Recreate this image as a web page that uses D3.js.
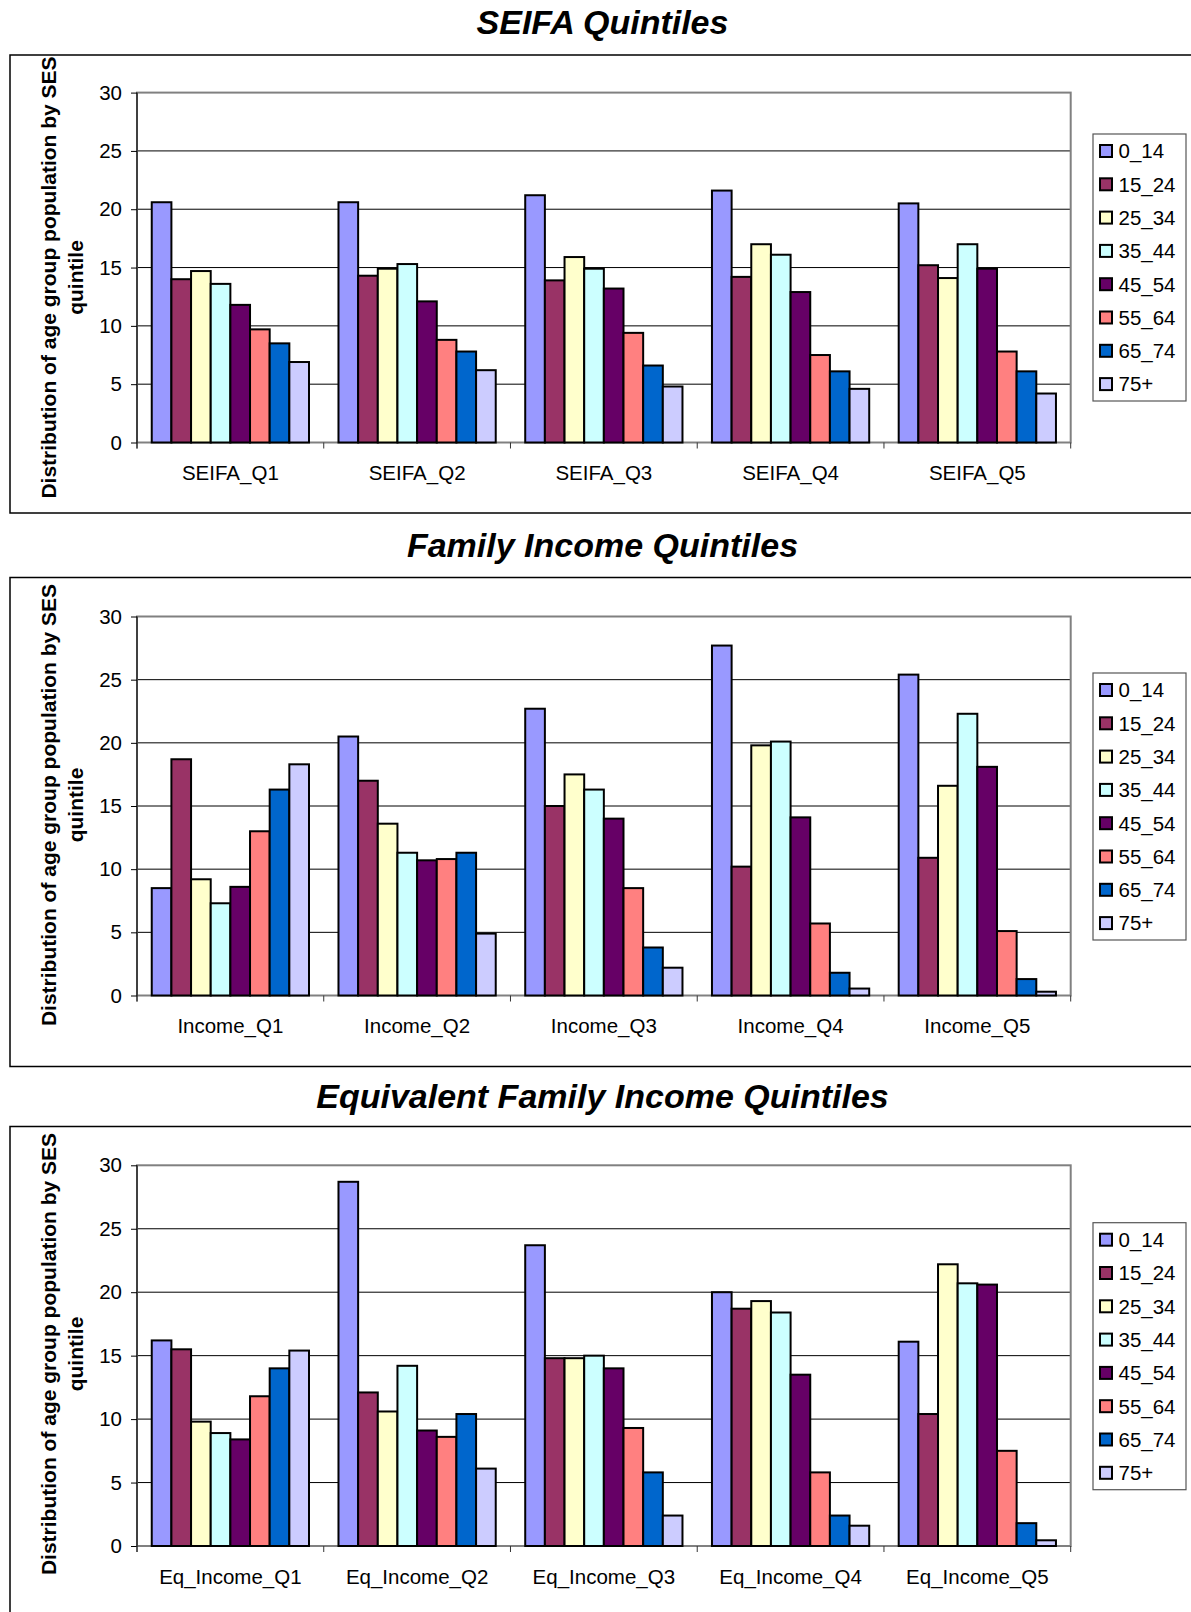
<!DOCTYPE html>
<html>
<head>
<meta charset="utf-8">
<script src="https://cdn.jsdelivr.net/npm/d3@7"></script>
<style>
  html, body { margin: 0; padding: 0; background: #fff; }
  svg { display: block; font-family: "Liberation Sans", Arial, sans-serif; }
</style>
</head>
<body>
<svg id="chart" width="1191" height="1612"></svg>
<script>
// Age groups (series) and their fill colours
const ageGroups = ["0_14", "15_24", "25_34", "35_44", "45_54", "55_64", "65_74", "75+"];
const ageColors = ["#9999FF", "#993366", "#FFFFCC", "#CCFFFF", "#660066", "#FF8080", "#0066CC", "#CCCCFF"];

const yTicks = [0, 5, 10, 15, 20, 25, 30];
const yTitleLines = ["Distribution of age group population by SES", "quintile"];

// SEIFA quintiles: % of each age group in each quintile
const seifaTitle = "SEIFA Quintiles";
const seifaCategories = ["SEIFA_Q1", "SEIFA_Q2", "SEIFA_Q3", "SEIFA_Q4", "SEIFA_Q5"];
const seifaValues = [
  [20.6, 14.0, 14.7, 13.6, 11.8, 9.7, 8.5, 6.9],
  [20.6, 14.3, 14.9, 15.3, 12.1, 8.8, 7.8, 6.2],
  [21.2, 13.9, 15.9, 14.9, 13.2, 9.4, 6.6, 4.8],
  [21.6, 14.2, 17.0, 16.1, 12.9, 7.5, 6.1, 4.6],
  [20.5, 15.2, 14.1, 17.0, 14.9, 7.8, 6.1, 4.2]
];

// Family income quintiles
const incomeTitle = "Family Income Quintiles";
const incomeCategories = ["Income_Q1", "Income_Q2", "Income_Q3", "Income_Q4", "Income_Q5"];
const incomeValues = [
  [8.5, 18.7, 9.2, 7.3, 8.6, 13.0, 16.3, 18.3],
  [20.5, 17.0, 13.6, 11.3, 10.7, 10.8, 11.3, 4.9],
  [22.7, 15.0, 17.5, 16.3, 14.0, 8.5, 3.8, 2.2],
  [27.7, 10.2, 19.8, 20.1, 14.1, 5.7, 1.8, 0.55],
  [25.4, 10.9, 16.6, 22.3, 18.1, 5.1, 1.3, 0.3]
];

// Equivalent family income quintiles
const eqIncomeTitle = "Equivalent Family Income Quintiles";
const eqIncomeCategories = ["Eq_Income_Q1", "Eq_Income_Q2", "Eq_Income_Q3", "Eq_Income_Q4", "Eq_Income_Q5"];
const eqIncomeValues = [
  [16.2, 15.5, 9.8, 8.9, 8.4, 11.8, 14.0, 15.4],
  [28.7, 12.1, 10.6, 14.2, 9.1, 8.6, 10.4, 6.1],
  [23.7, 14.8, 14.8, 15.0, 14.0, 9.3, 5.8, 2.4],
  [20.0, 18.7, 19.3, 18.4, 13.5, 5.8, 2.4, 1.6],
  [16.1, 10.4, 22.2, 20.7, 20.6, 7.5, 1.8, 0.45]
];

// Panel layout (pixel geometry for each of the three stacked charts)
const panels = [
  { title: seifaTitle, categories: seifaCategories, values: seifaValues,
    titleY: 33.5, boxTop: 55, boxBottom: 513, plotTop: 92.6, plotBottom: 442.5,
    legendTop: 134, yTitleMid: 277.5 },
  { title: incomeTitle, categories: incomeCategories, values: incomeValues,
    titleY: 557, boxTop: 577.5, boxBottom: 1066.5, plotTop: 616.5, plotBottom: 995.5,
    legendTop: 673, yTitleMid: 805 },
  { title: eqIncomeTitle, categories: eqIncomeCategories, values: eqIncomeValues,
    titleY: 1107.5, boxTop: 1126.5, boxBottom: 1640, plotTop: 1165.3, plotBottom: 1546,
    legendTop: 1222.7, yTitleMid: 1354 }
];

const plotLeft = 137, plotRight = 1070.7;
const svg = d3.select("#chart");

panels.forEach(p => {
  const g = svg.append("g");

  // Title
  g.append("text")
    .attr("x", 602.5).attr("y", p.titleY)
    .attr("text-anchor", "middle")
    .style("font-size", "34px").style("font-weight", "bold").style("font-style", "italic")
    .text(p.title);

  // Chart frame
  g.append("rect")
    .attr("x", 10).attr("y", p.boxTop)
    .attr("width", 1185).attr("height", p.boxBottom - p.boxTop)
    .attr("fill", "none").attr("stroke", "#000").attr("stroke-width", 1.5);

  const x0 = d3.scaleBand().domain(p.categories).range([plotLeft, plotRight]).padding(0);
  const x1 = d3.scaleBand().domain(ageGroups).range([0, x0.bandwidth()])
    .paddingInner(0).paddingOuter(0.75);
  const y = d3.scaleLinear().domain([0, 30]).range([p.plotBottom, p.plotTop]);

  // Gridlines
  g.append("g").selectAll("line").data(yTicks.filter(t => t > 0 && t < 30)).join("line")
    .attr("x1", plotLeft).attr("x2", plotRight)
    .attr("y1", d => y(d)).attr("y2", d => y(d))
    .attr("stroke", "#000").attr("stroke-width", 1);

  // Plot area border (grey)
  g.append("rect")
    .attr("x", plotLeft).attr("y", p.plotTop)
    .attr("width", plotRight - plotLeft).attr("height", p.plotBottom - p.plotTop)
    .attr("fill", "none").attr("stroke", "#808080").attr("stroke-width", 2);

  // Bars
  const groups = g.append("g").selectAll("g").data(p.categories).join("g")
    .attr("transform", d => `translate(${x0(d)},0)`);
  groups.selectAll("rect")
    .data((d, i) => p.values[i].map((v, j) => ({ key: ageGroups[j], value: v, color: ageColors[j] })))
    .join("rect")
    .attr("x", d => x1(d.key))
    .attr("y", d => y(d.value))
    .attr("width", x1.bandwidth())
    .attr("height", d => y(0) - y(d.value))
    .attr("fill", d => d.color)
    .attr("stroke", "#000").attr("stroke-width", 2);

  // Y axis
  const yAxis = d3.axisLeft(y).tickValues(yTicks).tickSize(6).tickPadding(9).tickFormat(d3.format("d"));
  const ya = g.append("g").attr("transform", `translate(${plotLeft},0)`).call(yAxis);
  ya.select(".domain").attr("stroke", "#000").attr("d", `M0,${y(30)}V${y(0) + 6}`);
  ya.selectAll(".tick line").attr("stroke", "#000");
  ya.selectAll("text").style("font-size", "20.5px").style("font-family", "'Liberation Sans', Arial, sans-serif").attr("fill", "#000");

  // X axis: category labels, tick marks at category boundaries
  const xa = g.append("g").attr("transform", `translate(0,${p.plotBottom})`);
  const bounds = p.categories.map(c => x0(c)).concat([plotRight]);
  xa.selectAll("line").data(bounds).join("line")
    .attr("x1", d => d).attr("x2", d => d).attr("y1", 0).attr("y2", 6)
    .attr("stroke", "#333").attr("stroke-width", 1);
  xa.selectAll("text").data(p.categories).join("text")
    .attr("x", d => x0(d) + x0.bandwidth() / 2).attr("y", 37.5)
    .attr("text-anchor", "middle").style("font-size", "20.5px")
    .text(d => d);

  // Y axis title (two rotated lines)
  const yt = g.append("text")
    .attr("transform", `translate(0,${p.yTitleMid}) rotate(-90)`)
    .attr("text-anchor", "middle")
    .style("font-size", "21px").style("font-weight", "bold");
  yt.append("tspan").attr("x", 0).attr("y", 55.5).text(yTitleLines[0]);
  yt.append("tspan").attr("x", 0).attr("y", 83).text(yTitleLines[1]);

  // Legend
  const lg = g.append("g");
  lg.append("rect")
    .attr("x", 1093).attr("y", p.legendTop).attr("width", 93).attr("height", 267)
    .attr("fill", "#fff").attr("stroke", "#555").attr("stroke-width", 1.2);
  const items = lg.selectAll("g.item").data(ageGroups).join("g").attr("class", "item")
    .attr("transform", (d, i) => `translate(0,${p.legendTop + 17 + i * 33.3})`);
  items.append("rect")
    .attr("x", 1100).attr("y", -6).attr("width", 12).attr("height", 12)
    .attr("fill", (d, i) => ageColors[i]).attr("stroke", "#000").attr("stroke-width", 2);
  items.append("text")
    .attr("x", 1118.5).attr("y", 7.3)
    .style("font-size", "20.5px")
    .text(d => d);
});
</script>
</body>
</html>
